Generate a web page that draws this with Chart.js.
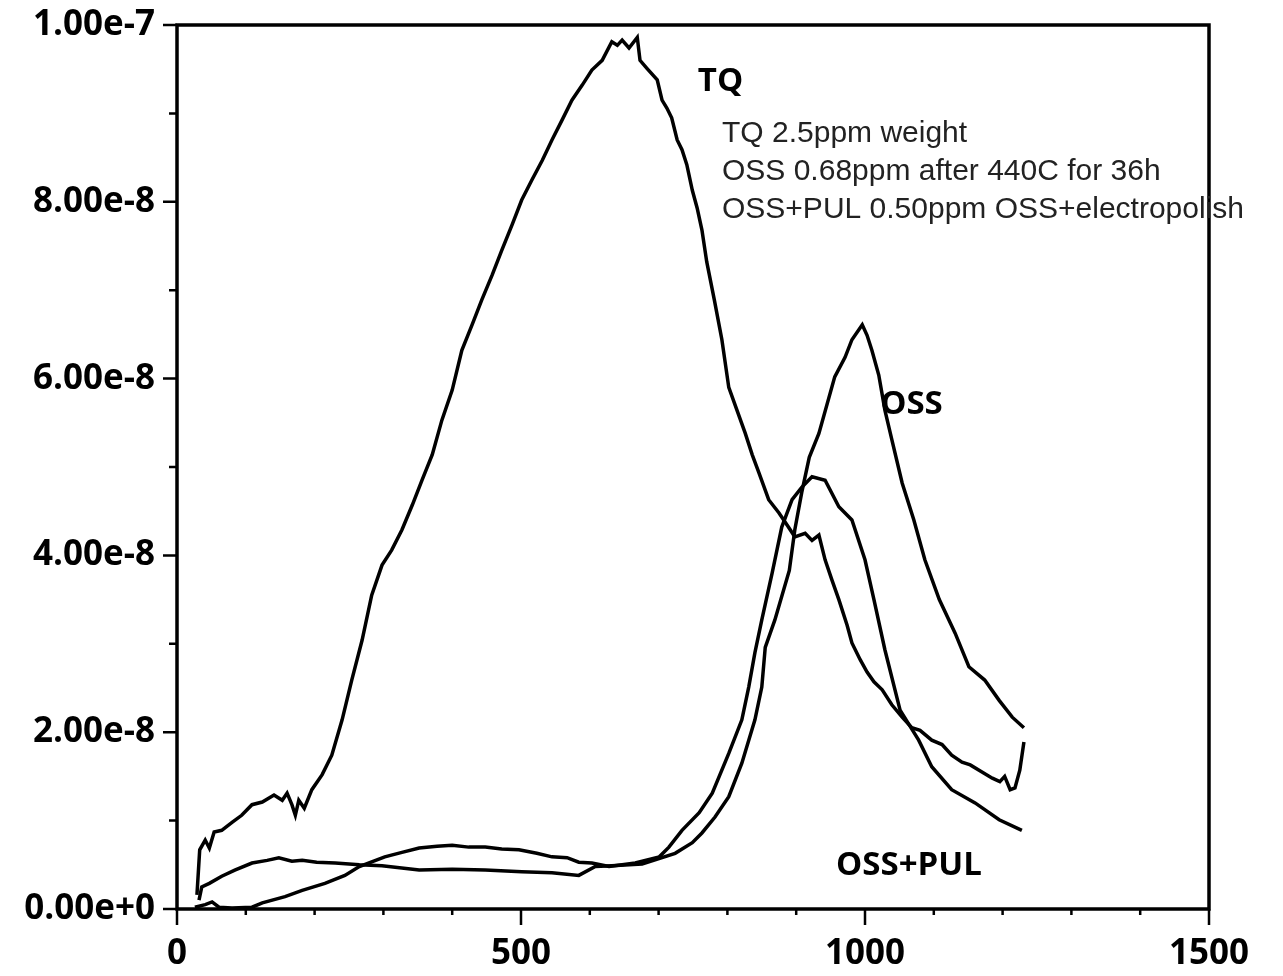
<!DOCTYPE html>
<html>
<head>
<meta charset="utf-8">
<script src="https://cdn.jsdelivr.net/npm/chart.js@4.4.1/dist/chart.umd.min.js"></script>
<style>
  html, body { margin: 0; padding: 0; background: #fff; }
  #wrap { width: 1283px; height: 976px; }
</style>
</head>
<body>
<div id="wrap"><canvas id="c" width="1283" height="976"></canvas></div>
<script>
// values in units of 1e-8, x in instrument units
const UNIT = 1e-8;

const tq = [
  [29,0.16],[33,0.67],[41,0.78],[47,0.69],[54,0.87],[65,0.89],[80,0.98],[94,1.06],[109,1.18],
  [124,1.21],[141,1.29],[153,1.23],[160,1.31],[167,1.18],[172,1.06],[177,1.23],[185,1.14],
  [196,1.35],[211,1.52],[225,1.74],[240,2.14],[254,2.59],[269,3.04],[283,3.55],[298,3.89],
  [312,4.06],[327,4.29],[342,4.57],[356,4.85],[371,5.14],[385,5.53],[400,5.87],[414,6.32],
  [429,6.61],[443,6.89],[458,7.17],[472,7.45],[487,7.74],[501,8.02],[516,8.25],[531,8.47],
  [545,8.70],[560,8.93],[574,9.15],[589,9.32],[603,9.49],[618,9.60],[632,9.81],[640,9.77],
  [647,9.83],[657,9.74],[669,9.86],[673,9.60],[683,9.51],[698,9.38],[705,9.15],[712,9.06],
  [719,8.95],[727,8.70],[734,8.59],[741,8.42],[749,8.13],[756,7.93],[763,7.68],[770,7.32],
  [781,6.89],[792,6.44],[802,5.90],[814,5.64],[826,5.38],[836,5.14],[846,4.93],[860,4.63],
  [875,4.48],[887,4.34],[898,4.21],[913,4.25],[923,4.17],[933,4.23],[942,3.95],[952,3.72],
  [962,3.50],[974,3.21],[981,3.01],[993,2.82],[1003,2.68],[1013,2.57],[1025,2.48],[1039,2.31],
  [1054,2.17],[1068,2.05],[1080,2.02],[1097,1.91],[1112,1.86],[1126,1.74],[1141,1.66],
  [1153,1.63],[1170,1.55],[1185,1.48],[1196,1.44],[1203,1.50],[1211,1.35],[1218,1.37],
  [1225,1.57],[1231,1.89]
];

const oss = [
  [32,0.10],[36,0.25],[47,0.29],[65,0.37],[84,0.44],[109,0.52],[131,0.55],[148,0.58],[167,0.54],
  [182,0.55],[203,0.53],[230,0.52],[265,0.50],[298,0.49],[352,0.44],[400,0.45],[448,0.44],
  [501,0.42],[545,0.41],[584,0.38],[608,0.48],[632,0.49],[676,0.51],[724,0.63],[749,0.75],
  [763,0.86],[782,1.04],[802,1.27],[821,1.65],[840,2.14],[850,2.51],[855,2.96],[869,3.27],
  [890,3.83],[898,4.29],[908,4.71],[919,5.11],[933,5.38],[956,6.02],[971,6.24],[981,6.44],
  [996,6.61],[1003,6.49],[1010,6.32],[1020,6.04],[1029,5.64],[1039,5.31],[1054,4.82],
  [1071,4.40],[1087,3.95],[1108,3.50],[1131,3.12],[1151,2.74],[1174,2.59],[1195,2.36],
  [1214,2.17],[1231,2.05]
];

const ossPul = [
  [26,0.02],[41,0.05],[51,0.08],[61,0.02],[80,0.01],[109,0.02],[124,0.07],[157,0.14],[182,0.21],
  [215,0.29],[244,0.38],[265,0.48],[302,0.59],[327,0.64],[352,0.69],[378,0.71],[400,0.72],
  [424,0.70],[448,0.70],[472,0.68],[497,0.67],[523,0.63],[545,0.59],[567,0.58],[584,0.53],
  [603,0.52],[628,0.48],[666,0.52],[701,0.59],[715,0.70],[734,0.89],[759,1.09],[778,1.31],
  [802,1.76],[821,2.14],[831,2.51],[840,2.90],[850,3.27],[865,3.80],[879,4.32],[894,4.63],
  [908,4.77],[923,4.89],[942,4.85],[962,4.55],[981,4.40],[1000,3.95],[1013,3.50],[1029,2.93],
  [1051,2.25],[1078,1.91],[1097,1.61],[1126,1.35],[1160,1.20],[1195,1.01],[1228,0.89]
];

const xMajor = [0, 500, 1000, 1500];
const seriesLabels = ['TQ', 'OSS', 'OSS+PUL'];
const notes = [
  'TQ 2.5ppm weight',
  'OSS 0.68ppm after 440C for 36h',
  'OSS+PUL 0.50ppm OSS+electropolish'
];

const toPts = arr => arr.map(p => ({ x: p[0], y: p[1] * UNIT }));

const frame = {
  id: 'frame',
  afterDraw(chart) {
    const { ctx, chartArea: a, scales: { x, y } } = chart;
    ctx.save();
    ctx.strokeStyle = '#000';
    ctx.lineWidth = 3.5;
    ctx.strokeRect(a.left, a.top, a.right - a.left, a.bottom - a.top);
    ctx.lineWidth = 2.5;
    ctx.beginPath();
    for (let v = 0; v <= 1500; v += 100) {
      const px = x.getPixelForValue(v);
      const len = xMajor.includes(v) ? 16 : 6;
      ctx.moveTo(px, a.bottom);
      ctx.lineTo(px, a.bottom + len);
    }
    for (let i = 0; i <= 10; i++) {
      const py = y.getPixelForValue(i * UNIT);
      const len = i % 2 === 0 ? 14 : 8;
      ctx.moveTo(a.left - len, py);
      ctx.lineTo(a.left, py);
    }
    ctx.stroke();

    // curve labels
    ctx.fillStyle = '#000';
    ctx.font = 'bold 33px "Open Sans"';
    ctx.textBaseline = 'alphabetic';
    ctx.textAlign = 'left';
    ctx.fillText(seriesLabels[0], x.getPixelForValue(757), y.getPixelForValue(9.25 * UNIT));
    ctx.fillText(seriesLabels[1], x.getPixelForValue(1022), y.getPixelForValue(5.6 * UNIT));
    ctx.fillText(seriesLabels[2], x.getPixelForValue(958), y.getPixelForValue(0.38 * UNIT));

    // notes block
    ctx.fillStyle = '#222';
    ctx.font = '30px "Liberation Sans", Arial, sans-serif';
    notes.forEach((t, i) => {
      ctx.fillText(t, 722, 142 + i * 38);
    });
    ctx.restore();
  }
};

new Chart(document.getElementById('c'), {
  type: 'line',
  data: {
    datasets: [tq, oss, ossPul].map((d, i) => ({
      label: seriesLabels[i],
      data: toPts(d),
      borderColor: '#000',
      borderWidth: 3.5,
      pointRadius: 0,
      tension: 0,
      fill: false
    }))
  },
  options: {
    responsive: false,
    animation: false,
    devicePixelRatio: 1,
    layout: { padding: { top: 25, right: 74, left: 0, bottom: 0 } },
    plugins: { legend: { display: false }, tooltip: { enabled: false } },
    scales: {
      x: {
        type: 'linear',
        min: 0,
        max: 1500,
        grid: { display: false, drawTicks: false },
        border: { display: false },
        ticks: {
          stepSize: 500,
          padding: 24,
          color: '#000',
          font: { family: 'Open Sans', weight: 'bold', size: 35 },
          callback: v => String(v)
        },
        afterFit: s => {
          s.height = 67;
          s.paddingLeft = 0; s.paddingRight = 0;
        }
      },
      y: {
        min: 0,
        max: 1e-7,
        grid: { display: false, drawTicks: false },
        border: { display: false },
        ticks: {
          stepSize: 2e-8,
          padding: 22,
          color: '#000',
          font: { family: 'Open Sans', weight: 'bold', size: 35 },
          callback: v => Number(v).toExponential(2)
        },
        afterFit: s => {
          s.width = 177;
          s.paddingTop = 0; s.paddingBottom = 0;
        }
      }
    }
  },
  plugins: [frame]
});
</script>
</body>
</html>
